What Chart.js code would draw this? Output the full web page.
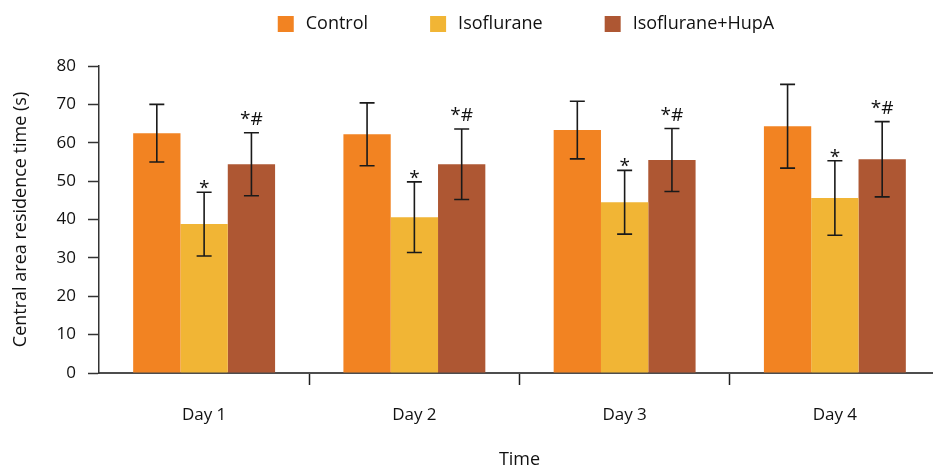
<!DOCTYPE html>
<html><head><meta charset="utf-8">
<script src="https://cdn.jsdelivr.net/npm/chart.js@4/dist/chart.umd.min.js"></script>
<style>html,body{margin:0;padding:0;overflow:hidden;background:#fff}canvas{display:block}</style>
</head><body>
<canvas id="c" width="950" height="468" style="width:950px;height:468px"></canvas>
<script>
const categories = ['Day 1', 'Day 2', 'Day 3', 'Day 4'];
const seriesNames = ['Control', 'Isoflurane', 'Isoflurane+HupA'];
const controlMean = [62.5, 62.2, 63.3, 64.3];
const controlErr  = [7.5, 8.2, 7.5, 10.9];
const isoMean     = [38.8, 40.6, 44.5, 45.6];
const isoErr      = [8.3, 9.2, 8.3, 9.7];
const hupMean     = [54.4, 54.4, 55.5, 55.7];
const hupErr      = [8.2, 9.2, 8.2, 9.8];
const controlMarks = ['', '', '', ''];
const isoMarks     = ['*', '*', '*', '*'];
const hupMarks     = ['*#', '*#', '*#', '*#'];
const yMin = 0, yMax = 80, yStep = 10;
const yTitle = 'Central area residence time (s)';
const xTitle = 'Time';

const colors = ['#F28322', '#F1B535', '#AE5733'];
const FONT = '"Open Sans", "DejaVu Sans", sans-serif';
const TXT = '#111';
const errs = [controlErr, isoErr, hupErr];
const marks = [controlMarks, isoMarks, hupMarks];

const extras = {
  id: 'extras',
  afterDatasetsDraw(chart) {
    const ctx = chart.ctx;
    const y = chart.scales.y;
    ctx.save();
    chart.data.datasets.forEach((ds, i) => {
      const meta = chart.getDatasetMeta(i);
      meta.data.forEach((bar, j) => {
        const v = ds.data[j], e = errs[i][j];
        const x = bar.x;
        const yt = y.getPixelForValue(v + e), yb = y.getPixelForValue(v - e);
        ctx.strokeStyle = '#1a1a1a';
        ctx.lineWidth = 1.6;
        ctx.beginPath();
        ctx.moveTo(x, yt); ctx.lineTo(x, yb);
        ctx.moveTo(x - 7.5, yt); ctx.lineTo(x + 7.5, yt);
        ctx.moveTo(x - 7.5, yb); ctx.lineTo(x + 7.5, yb);
        ctx.stroke();
        const m = marks[i][j];
        if (m) {
          ctx.fillStyle = TXT;
          ctx.font = '19px ' + FONT;
          ctx.textAlign = 'center';
          ctx.textBaseline = 'alphabetic';
          const off = m.length > 1 ? -8 : 2;
          ctx.fillText(m, x, yt + off);
        }
      });
    });
    ctx.restore();
  },
  afterDraw(chart) {
    const ctx = chart.ctx;
    const ca = chart.chartArea;
    ctx.save();
    ctx.font = '18px ' + FONT;
    const box = 16, gap = 12, spacing = 62;
    const widths = seriesNames.map(n => ctx.measureText(n).width);
    let total = 0;
    widths.forEach((w, i) => { total += box + gap + w + (i < widths.length - 1 ? spacing : 0); });
    let x = (ca.left + ca.right) / 2 + 6.5 - total / 2;
    const yc = 24;
    seriesNames.forEach((n, i) => {
      ctx.fillStyle = colors[i];
      ctx.fillRect(x, yc - box / 2, box, box);
      ctx.fillStyle = TXT;
      ctx.textAlign = 'left';
      ctx.textBaseline = 'middle';
      ctx.fillText(n, x + box + gap, yc);
      x += box + gap + widths[i] + spacing;
    });
    ctx.restore();
  }
};

new Chart(document.getElementById('c'), {
  type: 'bar',
  data: {
    labels: categories,
    datasets: [
      { label: seriesNames[0], data: controlMean, backgroundColor: colors[0] },
      { label: seriesNames[1], data: isoMean, backgroundColor: colors[1] },
      { label: seriesNames[2], data: hupMean, backgroundColor: colors[2] }
    ]
  },
  options: {
    responsive: false,
    animation: false,
    devicePixelRatio: 1,
    layout: { padding: { top: 66, left: 0, right: 10, bottom: 0 } },
    datasets: { bar: { categoryPercentage: 0.675, barPercentage: 1.0, borderWidth: 0 } },
    plugins: { legend: { display: false }, tooltip: { enabled: false } },
    scales: {
      x: {
        afterFit(s) { s.height = 95; },
        border: { display: true, color: '#4d4d4d', width: 2 },
        grid: {
          offset: true,
          drawOnChartArea: false,
          drawTicks: true,
          tickLength: 12,
          tickWidth: 1.5,
          tickColor: ctx => ctx.index === 0 ? 'rgba(0,0,0,0)' : '#1e1e1e'
        },
        ticks: { color: TXT, font: { family: FONT, size: 17 }, padding: 20 },
        title: { display: true, text: xTitle, color: TXT, font: { family: FONT, size: 18 }, padding: { top: 0, bottom: -3 } }
      },
      y: {
        min: yMin, max: yMax,
        afterFit(s) { s.width = 99; },
        border: { display: true, color: '#333', width: 1.5 },
        grid: { drawOnChartArea: false, tickLength: 11, tickWidth: 1.5, tickColor: '#333' },
        ticks: { stepSize: yStep, color: TXT, font: { family: FONT, size: 17 }, padding: 12 },
        title: { display: true, text: yTitle, color: TXT, font: { family: FONT, size: 18 }, padding: { top: 10, bottom: 0 } }
      }
    }
  },
  plugins: [extras]
});
</script>
</body></html>
